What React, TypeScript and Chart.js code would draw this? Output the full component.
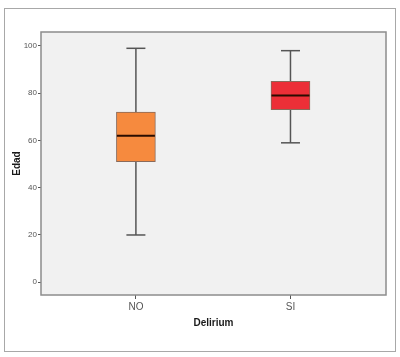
import React, { useEffect, useRef } from "react";
import { Chart, registerables } from "chart.js";

Chart.register(...registerables);

const categories = ["NO", "SI"];
const whiskerMin = [20, 59];
const q1 = [51, 73];
const median = [62, 79];
const q3 = [72, 85];
const whiskerMax = [99, 98];
const yTicks = [0, 20, 40, 60, 80, 100];
const boxColors = ["#F68A3E", "#EC2F37"];

const FONT = "Arial, 'Liberation Sans', sans-serif";

const boxPlugin = {
  id: "boxExtras",
  beforeDraw(chart: any) {
    const { ctx, chartArea } = chart;
    ctx.save();
    ctx.strokeStyle = "#a8a8a8";
    ctx.lineWidth = 1;
    ctx.strokeRect(4.5, 8.5, 391, 343);
    ctx.fillStyle = "#f1f1f1";
    ctx.fillRect(chartArea.left, chartArea.top, chartArea.right - chartArea.left, chartArea.bottom - chartArea.top);
    ctx.restore();
  },
  beforeDatasetsDraw(chart: any) {
    const { ctx } = chart;
    const xs = chart.scales.x;
    const ys = chart.scales.y;
    ctx.save();
    ctx.strokeStyle = "#555555";
    ctx.lineWidth = 1.5;
    categories.forEach((_, i) => {
      const x = xs.getPixelForValue(i);
      const capHalf = 9.5;
      ctx.beginPath();
      ctx.moveTo(x, ys.getPixelForValue(whiskerMin[i]));
      ctx.lineTo(x, ys.getPixelForValue(whiskerMax[i]));
      ctx.stroke();
      [whiskerMin[i], whiskerMax[i]].forEach((v) => {
        const y = ys.getPixelForValue(v);
        ctx.beginPath();
        ctx.moveTo(x - capHalf, y);
        ctx.lineTo(x + capHalf, y);
        ctx.stroke();
      });
    });
    ctx.restore();
  },
  afterDatasetsDraw(chart: any) {
    const { ctx, chartArea } = chart;
    const xs = chart.scales.x;
    const ys = chart.scales.y;
    ctx.save();
    ctx.strokeStyle = "#2a0c00";
    ctx.lineWidth = 2;
    categories.forEach((_, i) => {
      const x = xs.getPixelForValue(i);
      const y = ys.getPixelForValue(median[i]);
      ctx.beginPath();
      ctx.moveTo(x - 19, y);
      ctx.lineTo(x + 19, y);
      ctx.stroke();
    });
    ctx.strokeStyle = "#8c8c8c";
    ctx.lineWidth = 1.5;
    ctx.strokeRect(chartArea.left, chartArea.top, chartArea.right - chartArea.left, chartArea.bottom - chartArea.top);
    ctx.restore();
  },
};

export default function App() {
  const ref = useRef<HTMLCanvasElement>(null);
  useEffect(() => {
    document.body.style.margin = "0";
    const canvas = ref.current;
    if (!canvas) return;
    const chart = new Chart(canvas, {
      type: "bar",
      data: {
        datasets: [
          {
            data: categories.map((_, i) => ({ x: i, y: [q1[i], q3[i]] })) as any,
            backgroundColor: boxColors,
            borderColor: "#8a6a5a",
            borderWidth: 1,
            borderSkipped: false,
            barThickness: 39,
          },
        ],
      },
      options: {
        animation: false,
        responsive: false,
        devicePixelRatio: 1,
        layout: { padding: { left: 0, top: 32, right: 14, bottom: 0 } },
        plugins: { legend: { display: false }, tooltip: { enabled: false } },
        scales: {
          x: {
            type: "linear",
            offset: false,
            min: -0.614,
            max: 1.618,
            afterBuildTicks: (s: any) => {
              s.ticks = categories.map((_, i) => ({ value: i }));
            },
            afterFit: (s: any) => {
              s.height = 62;
            },
            ticks: {
              callback: (v: any) => categories[v] ?? "",
              color: "#555555",
              font: { family: FONT, size: 10 },
              padding: 2,
              maxRotation: 0,
            },
            grid: { display: true, offset: false, drawOnChartArea: false, tickLength: 4, color: "#555555" },
            border: { display: false },
            title: {
              display: true,
              text: "Delirium",
              color: "#1a1a1a",
              font: { family: FONT, size: 10, weight: "bold" },
              padding: { top: 0, bottom: 28 },
            },
          },
          y: {
            min: -5.4,
            max: 105.9,
            afterBuildTicks: (s: any) => {
              s.ticks = yTicks.map((v) => ({ value: v }));
            },
            afterFit: (s: any) => {
              s.width = 41;
            },
            ticks: {
              color: "#555555",
              font: { family: FONT, size: 8 },
              padding: 1,
            },
            grid: { display: true, drawOnChartArea: false, tickLength: 3, color: "#555555" },
            border: { display: false },
            title: {
              display: true,
              text: "Edad",
              color: "#1a1a1a",
              font: { family: FONT, size: 10, weight: "bold" },
              padding: { top: 11, bottom: 0 },
            },
          },
        },
      },
      plugins: [boxPlugin],
    });
    return () => chart.destroy();
  }, []);
  return (
    <canvas ref={ref} width={400} height={357} style={{ display: "block", width: 400, height: 357 }} />
  );
}
